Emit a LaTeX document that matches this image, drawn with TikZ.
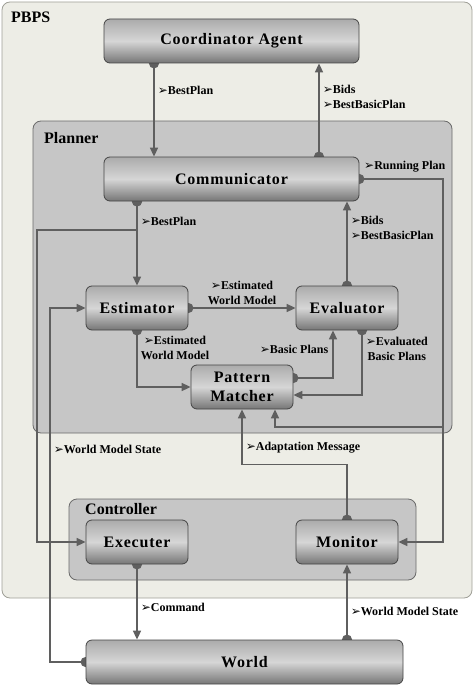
\documentclass[tikz,border=0pt]{standalone}
\usepackage{fontspec}
\setmainfont{Liberation Serif}
\newfontfamily\boxfont[LetterSpace=5]{Liberation Serif}
\newfontfamily\dingfont{DejaVu Sans}
\usetikzlibrary{arrows.meta}
\definecolor{pagegray}{HTML}{EDEDE6}
\definecolor{pbpsedge}{HTML}{A0A098}
\definecolor{groupgray}{HTML}{C6C6C6}
\definecolor{groupedge}{HTML}{6A6A6A}
\definecolor{linegray}{HTML}{5F5F5F}
\definecolor{edgegray}{HTML}{454545}
\definecolor{boxtop}{HTML}{ABABAB}
\definecolor{boxmid}{HTML}{D6D6D6}
\definecolor{boxbot}{HTML}{767676}
\newcommand{\bt}{{\dingfont\fontsize{12}{10}\selectfont ➢}}
\pgfdeclarelayer{groups}
\pgfdeclarelayer{wires}
\pgfsetlayers{groups,wires,main}

\begin{document}
\begin{tikzpicture}[x=1pt,y=-1pt,
  block/.style={rectangle,rounded corners=6pt,draw=edgegray,line width=0.8pt,top color=boxtop,bottom color=boxbot,middle color=boxmid,
    minimum width=102pt,minimum height=44pt,inner sep=0pt,align=center,font=\boxfont\bfseries\fontsize{16}{19}\selectfont},
  group/.style={rounded corners=8pt,draw=groupedge,line width=0.8pt,fill=groupgray},
  title/.style={anchor=base west,inner sep=0pt,font=\bfseries\fontsize{16}{19}\selectfont},
  tag/.style={inner sep=0pt,align=center,font=\bfseries\fontsize{12}{15}\selectfont},
  link/.style={draw=linegray,line width=1.6pt,-{Triangle[length=9pt,width=8pt]}},
  flow/.style={link,{Circle[length=10pt]}-{Triangle[length=9pt,width=8pt]},shorten <=-5pt}]

  \useasboundingbox (0,0) rectangle (474,685);
  \begin{pgfonlayer}{groups}
  \draw[rounded corners=8pt,draw=pbpsedge,line width=0.8pt,fill=pagegray] (2,2) rectangle (472,598);
  \draw[group] (33,121) rectangle (452,433);
  \draw[group] (69,499) rectangle (416,580);
  \end{pgfonlayer}
  \node[title] (pbpsname) at (11,23) {PBPS};
  \node[title] (plannername) at (44,143) {Planner};
  \node[title] (controllername) at (85,514) {Controller};

  \node[block,minimum width=255pt] (coord) at (231.5,41) {Coordinator Agent};
  \node[block,minimum width=255pt] (comm) at (231.5,179) {Communicator};
  \node[block] (est) at (137,308) {Estimator};
  \node[block] (eval) at (347,308) {Evaluator};
  \node[block] (pm) at (242,387) {Pattern\\Matcher};
  \node[block] (exec) at (137,542) {Executer};
  \node[block] (mon) at (347,542) {Monitor};
  \node[block,minimum width=317pt] (world) at (244.5,662) {World};

  \coordinate (bpx) at (154,0);
  \coordinate (bidx) at (319,0);
  \coordinate (execx) at (37,230);
  \coordinate (runx) at (443,427);
  \coordinate (planx) at (333,0);
  \coordinate (wmx) at (50,0);
  \coordinate (pmx) at (275,0);

  \begin{pgfonlayer}{wires}
  \draw[flow] (coord.south -| bpx) -- node[tag,pos=0.29,anchor=west,xshift=3pt] {\bt BestPlan} (comm.north -| bpx);
  \draw[flow] (comm.north -| bidx) -- node[tag,pos=0.64,anchor=west,xshift=3pt,align=left] {\bt Bids\\\bt BestBasicPlan} (coord.south -| bidx);
  \draw[flow] (comm.south -| est) -- node[tag,pos=0.235,anchor=west,xshift=3pt] {\bt BestPlan} (est.north);
  \draw[flow] (comm.south -| est) |- (execx) |- (exec.west);
  \draw[flow] (eval.north) -- node[tag,pos=0.68,anchor=west,xshift=3pt,align=left] {\bt Bids\\\bt BestBasicPlan} (comm.south -| eval);
  \draw[flow] (comm.east) -| node[tag,at start,anchor=west,xshift=4pt,yshift=12pt] {\bt Running Plan} (runx) |- (mon.east);
  \draw[link] (runx) -| (pm.south -| pmx);
  \draw[flow] (est.east) -- node[tag,above=3pt] {\bt Estimated\\World Model} (eval.west);
  \draw[flow] (est.south) |- node[tag,at start,anchor=north west,xshift=3pt,yshift=-5pt] {\bt Estimated\\World Model} (pm.west);
  \draw[flow] ([yshift=9pt]pm.east) -| node[tag,pos=0.8,anchor=east,xshift=-4pt] {\bt Basic Plans} (eval.south -| planx);
  \draw[flow] ([xshift=15pt]eval.south) |- node[tag,at start,anchor=north west,xshift=3pt,yshift=-6pt] {\bt Evaluated\\Basic Plans} ([yshift=-8pt]pm.east);
  \draw[flow] (mon.north) -- ++(0,-55) -| node[tag,pos=0.65,anchor=west,xshift=3pt] {\bt Adaptation Message} (pm.south);
  \draw[flow] (world.west) -| node[tag,pos=0.8,anchor=west,xshift=3pt] {\bt World Model State} (est.west -| wmx) -- (est.west);
  \draw[flow] (exec.south) -- node[tag,pos=0.57,anchor=west,xshift=3pt] {\bt Command} (world.north -| exec);
  \draw[flow] (world.north -| mon) -- node[tag,pos=0.38,anchor=west,xshift=3pt] {\bt World Model State} (mon.south);
  \end{pgfonlayer}
\end{tikzpicture}
\end{document}
